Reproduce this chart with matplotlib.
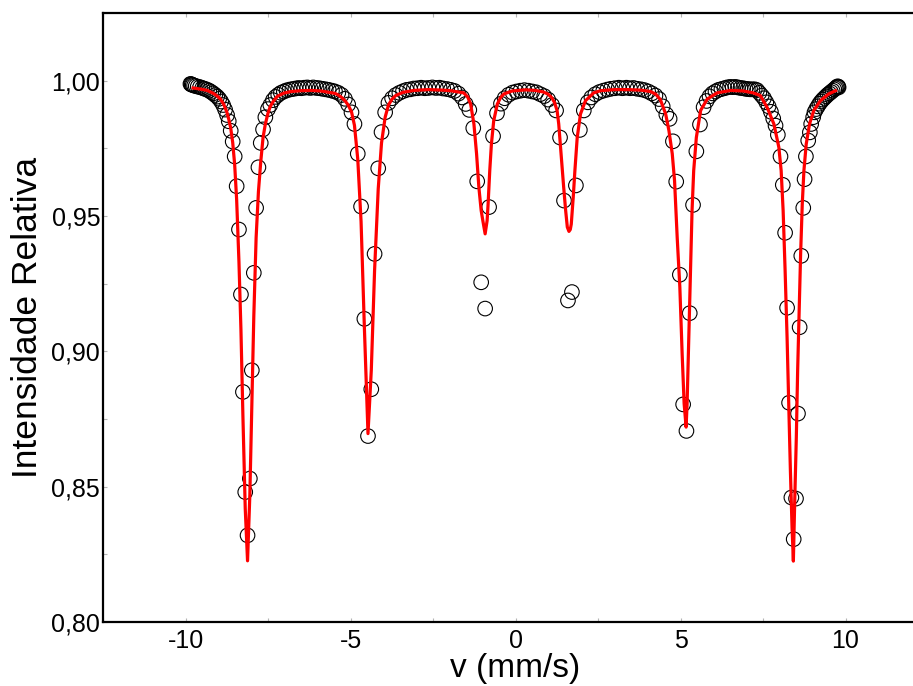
import matplotlib
matplotlib.use('Agg')
import matplotlib.pyplot as plt
from matplotlib.ticker import MultipleLocator, FuncFormatter

# measured spectrum (velocity in mm/s, relative intensity)
v_data = [
    -9.85, -9.83, -9.81, -9.78, -9.74, -9.69, -9.63, -9.56, -9.49, -9.42,
    -9.35, -9.28, -9.22, -9.16, -9.10, -9.04, -8.98, -8.92, -8.86, -8.80,
    -8.74, -8.69, -8.63, -8.57, -8.51, -8.45, -8.38, -8.32, -8.26, -8.19,
    -8.12, -8.05, -7.99, -7.93, -7.86, -7.79, -7.72, -7.65, -7.58, -7.50,
    -7.43, -7.35, -7.27, -7.19, -7.11, -7.02, -6.94, -6.85, -6.76, -6.67,
    -6.58, -6.49, -6.40, -6.31, -6.22, -6.13, -6.03, -5.94, -5.85, -5.75,
    -5.66, -5.56, -5.47, -5.37, -5.27, -5.17, -5.07, -4.97, -4.88, -4.78,
    -4.68, -4.58, -4.47, -4.37, -4.27, -4.16, -4.06, -3.95, -3.85, -3.74,
    -3.63, -3.52, -3.41, -3.30, -3.19, -3.08, -2.97, -2.86, -2.75, -2.64,
    -2.52, -2.41, -2.30, -2.19, -2.07, -1.96, -1.85, -1.73, -1.62, -1.51,
    -1.40, -1.28, -1.16, -1.04, -0.92, -0.80, -0.68, -0.56, -0.44, -0.33,
    -0.21, -0.09, 0.03, 0.15, 0.27, 0.39, 0.51, 0.63, 0.75, 0.87,
    0.99, 1.11, 1.23, 1.35, 1.47, 1.59, 1.71, 1.83, 1.95, 2.07,
    2.19, 2.30, 2.42, 2.54, 2.66, 2.78, 2.89, 3.01, 3.13, 3.24,
    3.36, 3.47, 3.58, 3.69, 3.80, 3.91, 4.02, 4.13, 4.24, 4.35,
    4.46, 4.57, 4.67, 4.77, 4.87, 4.98, 5.08, 5.18, 5.28, 5.38,
    5.48, 5.59, 5.70, 5.79, 5.88, 5.97, 6.06, 6.15, 6.24, 6.33,
    6.41, 6.50, 6.58, 6.66, 6.74, 6.82, 6.90, 6.97, 7.04, 7.11,
    7.18, 7.25, 7.32, 7.39, 7.46, 7.53, 7.60, 7.67, 7.74, 7.81,
    7.88, 7.95, 8.03, 8.10, 8.17, 8.23, 8.29, 8.36, 8.43, 8.50,
    8.56, 8.61, 8.66, 8.72, 8.76, 8.80, 8.87, 8.92, 8.96, 9.02,
    9.06, 9.11, 9.16, 9.21, 9.26, 9.31, 9.36, 9.41, 9.46, 9.51,
    9.56, 9.61, 9.66, 9.70, 9.73, 9.76, 9.78, 9.79,
]
y_data = [
    0.9988, 0.9987, 0.9985, 0.9984, 0.9982, 0.9980, 0.9978, 0.9976, 0.9973, 0.9970,
    0.9967, 0.9963, 0.9958, 0.9953, 0.9947, 0.9941, 0.9933, 0.9923, 0.9910, 0.9893,
    0.9873, 0.9850, 0.9815, 0.9775, 0.9720, 0.9610, 0.9450, 0.9210, 0.8850, 0.8480,
    0.8320, 0.8530, 0.8930, 0.9290, 0.9530, 0.9680, 0.9770, 0.9820, 0.9865, 0.9895,
    0.9910, 0.9928, 0.9940, 0.9948, 0.9955, 0.9960, 0.9964, 0.9967, 0.9969, 0.9971,
    0.9973, 0.9972, 0.9974, 0.9975, 0.9973, 0.9975, 0.9973, 0.9972, 0.9970, 0.9968,
    0.9966, 0.9963, 0.9960, 0.9955, 0.9947, 0.9933, 0.9912, 0.9883, 0.9840, 0.9730,
    0.9535, 0.9120, 0.8687, 0.8860, 0.9360, 0.9676, 0.9810, 0.9883, 0.9918, 0.9935,
    0.9947, 0.9955, 0.9961, 0.9966, 0.9968, 0.9971, 0.9972, 0.9974, 0.9972, 0.9973,
    0.9975, 0.9973, 0.9974, 0.9971, 0.9969, 0.9966, 0.9962, 0.9952, 0.9938, 0.9914,
    0.9892, 0.9825, 0.9628, 0.9255, 0.9158, 0.9533, 0.9795, 0.9880, 0.9915, 0.9935,
    0.9948, 0.9956, 0.9960, 0.9963, 0.9965, 0.9963, 0.9960, 0.9957, 0.9950, 0.9943,
    0.9930, 0.9910, 0.9890, 0.9790, 0.9557, 0.9188, 0.9219, 0.9613, 0.9818, 0.9890,
    0.9920, 0.9938, 0.9950, 0.9958, 0.9963, 0.9967, 0.9970, 0.9972, 0.9974, 0.9972,
    0.9974, 0.9972, 0.9973, 0.9970, 0.9968, 0.9965, 0.9960, 0.9953, 0.9945, 0.9932,
    0.9905, 0.9875, 0.9859, 0.9776, 0.9627, 0.9283, 0.8804, 0.8706, 0.9141, 0.9541,
    0.9739, 0.9838, 0.9902, 0.9925, 0.9942, 0.9953, 0.9960, 0.9966, 0.9969, 0.9972,
    0.9975, 0.9977, 0.9976, 0.9977, 0.9975, 0.9973, 0.9972, 0.9970, 0.9969, 0.9968,
    0.9968, 0.9968, 0.9965, 0.9955, 0.9945, 0.9935, 0.9920, 0.9905, 0.9885, 0.9860,
    0.9834, 0.9800, 0.9720, 0.9615, 0.9438, 0.9161, 0.8810, 0.8460, 0.8306, 0.8456,
    0.8770, 0.9089, 0.9353, 0.9530, 0.9636, 0.9720, 0.9779, 0.9809, 0.9840, 0.9865,
    0.9883, 0.9895, 0.9905, 0.9915, 0.9923, 0.9930, 0.9936, 0.9942, 0.9948, 0.9953,
    0.9958, 0.9963, 0.9968, 0.9972, 0.9976, 0.9979, 0.9978, 0.9975,
]

# fitted sextet curve
v_fit = [
    -9.77, -9.55, -9.34, -9.14, -9.04, -8.94, -8.84, -8.75, -8.69, -8.63,
    -8.57, -8.51, -8.45, -8.38, -8.32, -8.26, -8.19, -8.12, -8.05, -7.99,
    -7.93, -7.86, -7.79, -7.72, -7.65, -7.58, -7.50, -7.43, -7.35, -7.22,
    -7.02, -6.80, -6.50, -6.20, -5.90, -5.66, -5.47, -5.37, -5.27, -5.17,
    -5.07, -4.97, -4.88, -4.78, -4.68, -4.58, -4.47, -4.37, -4.27, -4.16,
    -4.06, -3.95, -3.85, -3.74, -3.63, -3.41, -3.08, -2.64, -2.19, -1.97,
    -1.57, -1.45, -1.36, -1.26, -1.18, -1.11, -1.04, -0.99, -0.92, -0.86,
    -0.83, -0.78, -0.73, -0.66, -0.55, -0.45, -0.35, -0.10, 0.30, 0.60,
    0.85, 0.99, 1.10, 1.18, 1.26, 1.31, 1.38, 1.46, 1.52, 1.57,
    1.62, 1.66, 1.69, 1.75, 1.80, 1.87, 1.97, 2.12, 2.37, 2.58,
    3.00, 3.40, 3.80, 4.09, 4.25, 4.39, 4.55, 4.65, 4.75, 4.82,
    4.90, 4.98, 5.05, 5.11, 5.17, 5.20, 5.25, 5.30, 5.35, 5.40,
    5.48, 5.61, 5.81, 6.11, 6.52, 6.90, 7.20, 7.42, 7.63, 7.83,
    7.98, 8.05, 8.11, 8.17, 8.23, 8.28, 8.33, 8.38, 8.42, 8.46,
    8.51, 8.55, 8.60, 8.64, 8.69, 8.74, 8.81, 8.91, 9.04, 9.24,
    9.49, 9.70,
]
y_fit = [
    0.9973, 0.9969, 0.9964, 0.9952, 0.9943, 0.9932, 0.9912, 0.9885, 0.9858, 0.9825,
    0.9772, 0.9690, 0.9560, 0.9330, 0.9080, 0.8760, 0.8420, 0.8226, 0.8470, 0.8800,
    0.9130, 0.9420, 0.9590, 0.9700, 0.9790, 0.9840, 0.9880, 0.9905, 0.9922, 0.9942,
    0.9954, 0.9960, 0.9963, 0.9964, 0.9962, 0.9957, 0.9953, 0.9947, 0.9938, 0.9926,
    0.9910, 0.9885, 0.9835, 0.9710, 0.9480, 0.9090, 0.8696, 0.8930, 0.9300, 0.9600,
    0.9770, 0.9865, 0.9910, 0.9932, 0.9945, 0.9957, 0.9964, 0.9967, 0.9965, 0.9963,
    0.9955, 0.9940, 0.9914, 0.9840, 0.9730, 0.9606, 0.9520, 0.9483, 0.9434, 0.9483,
    0.9545, 0.9668, 0.9766, 0.9852, 0.9914, 0.9938, 0.9951, 0.9962, 0.9966, 0.9964,
    0.9958, 0.9950, 0.9937, 0.9920, 0.9890, 0.9840, 0.9730, 0.9606, 0.9520, 0.9459,
    0.9443, 0.9450, 0.9470, 0.9570, 0.9668, 0.9790, 0.9877, 0.9926, 0.9955, 0.9963,
    0.9967, 0.9967, 0.9965, 0.9960, 0.9950, 0.9930, 0.9877, 0.9815, 0.9730, 0.9630,
    0.9420, 0.9237, 0.8990, 0.8807, 0.8720, 0.8807, 0.9050, 0.9299, 0.9520, 0.9668,
    0.9790, 0.9890, 0.9932, 0.9955, 0.9964, 0.9962, 0.9955, 0.9945, 0.9900, 0.9840,
    0.9754, 0.9668, 0.9520, 0.9299, 0.9050, 0.8807, 0.8560, 0.8350, 0.8225, 0.8440,
    0.8684, 0.8930, 0.9176, 0.9360, 0.9545, 0.9668, 0.9766, 0.9840, 0.9890, 0.9926,
    0.9951, 0.9963,
]

y_ticks = [0.80, 0.85, 0.90, 0.95, 1.00]
x_ticks = [-10, -5, 0, 5, 10]


def comma(val, pos):
    return "{:.2f}".format(val).replace('.', ',')


def main():
    plt.rcParams['font.family'] = ['Liberation Sans', 'DejaVu Sans']
    plt.rcParams['axes.unicode_minus'] = False

    fig = plt.figure(figsize=(9.13, 6.86), dpi=100)
    # right spine falls just outside the picture, like the original
    ax = fig.add_axes([103 / 913, 64 / 686, 825 / 913, 609 / 686])

    ax.scatter(v_data, y_data, s=110, facecolors='none', edgecolors='black',
               linewidths=0.8, zorder=2)
    ax.plot(v_fit, y_fit, color='red', lw=2.3, zorder=3)

    ax.set_xlim(-12.5, 12.5)
    ax.set_ylim(0.80, 1.025)
    ax.set_xticks(x_ticks)
    ax.set_xticklabels([str(t) for t in x_ticks])
    ax.set_yticks(y_ticks)
    ax.yaxis.set_major_formatter(FuncFormatter(comma))
    ax.xaxis.set_minor_locator(MultipleLocator(2.5))
    ax.yaxis.set_minor_locator(MultipleLocator(0.025))

    ax.tick_params(which='both', direction='in', top=True, right=True,
                   length=3, width=0.8, color='#b5b5b5', labelsize=18)
    ax.tick_params(axis='x', pad=5)
    ax.tick_params(axis='y', pad=2)
    for side in ax.spines.values():
        side.set_linewidth(1.6)

    ax.set_xlabel('v (mm/s)', fontsize=24, labelpad=0)
    ax.set_ylabel('Intensidade Relativa', fontsize=25.5, labelpad=5)

    fig.savefig('out.png', dpi=100)


if __name__ == "__main__":
    main()
